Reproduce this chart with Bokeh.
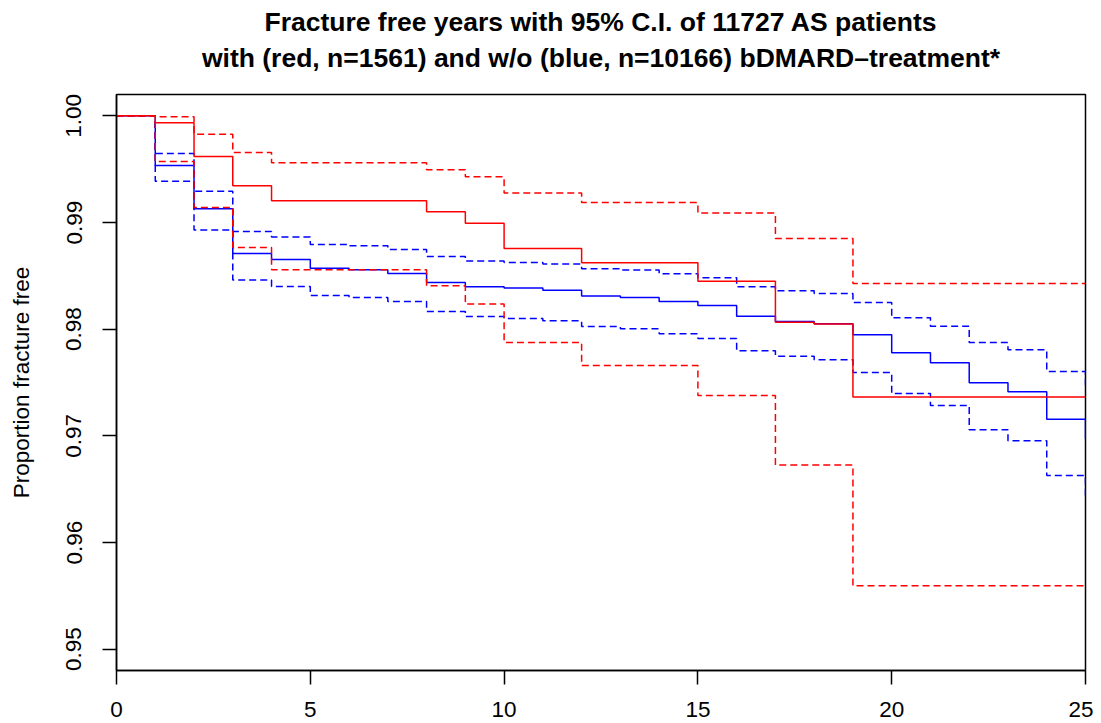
from bokeh.plotting import figure
from bokeh.models import FixedTicker, PrintfTickFormatter, Title, Range1d
from bokeh.embed import file_html
from bokeh.resources import INLINE

title_line1 = "Fracture free years with 95% C.I. of 11727 AS patients"
title_line2 = "with (red, n=1561) and w/o (blue, n=10166) bDMARD\u2013treatment*"
y_label = "Proportion fracture free"

x_ticks = [0, 5, 10, 15, 20, 25]
y_ticks = [0.95, 0.96, 0.97, 0.98, 0.99, 1.00]

# bDMARD-treated (red)
red_years = [0, 1, 2, 3, 4, 8, 9, 10, 12, 15, 17, 18, 19, 25]
red_est = [1.0, 0.99935, 0.99619, 0.99344, 0.99203, 0.99100, 0.98994, 0.98757,
           0.98622, 0.98450, 0.98064, 0.98049, 0.97363, 0.97363]
red_upper = [1.0, 0.99991, 0.99828, 0.99656, 0.99559, 0.99494, 0.99428, 0.99276,
             0.99187, 0.99088, 0.98850, 0.98850, 0.98428, 0.98428]
red_lower = [1.0, 0.99571, 0.99141, 0.98766, 0.98557, 0.98407, 0.98235, 0.97876,
             0.97659, 0.97378, 0.96726, 0.96726, 0.95594, 0.95594]

# untreated (blue)
blue_years = list(range(0, 26))
blue_est = [1.0, 0.99534, 0.99128, 0.98709, 0.98653, 0.98572, 0.98557, 0.98522,
            0.98438, 0.98397, 0.98385, 0.98365, 0.98312, 0.98297, 0.98260, 0.98222,
            0.98122, 0.98072, 0.98051, 0.97947, 0.97778, 0.97684, 0.97497, 0.97413,
            0.97156, 0.96972]
blue_upper = [1.0, 0.99647, 0.99294, 0.98916, 0.98865, 0.98794, 0.98781, 0.98747,
              0.98681, 0.98638, 0.98625, 0.98610, 0.98566, 0.98554, 0.98519, 0.98481,
              0.98397, 0.98359, 0.98334, 0.98250, 0.98106, 0.98028, 0.97875, 0.97806,
              0.97603, 0.97475]
blue_lower = [1.0, 0.99387, 0.98929, 0.98460, 0.98400, 0.98315, 0.98297, 0.98260,
              0.98166, 0.98119, 0.98100, 0.98079, 0.98024, 0.98003, 0.97956, 0.97913,
              0.97797, 0.97747, 0.97713, 0.97594, 0.97397, 0.97284, 0.97057, 0.96953,
              0.96628, 0.96419]

FONT = "Liberation Sans"
LABEL_SIZE = "22.5px"
TITLE_SIZE = "26.5px"

p = figure(frame_width=969, frame_height=576,
           min_border_left=116, min_border_top=94, min_border_right=8, min_border_bottom=52,
           x_range=Range1d(0, 25), y_range=Range1d(0.948, 1.002),
           output_backend="svg", toolbar_location=None, title=None)

# spacer between the frame and the two title lines
p.add_layout(Title(text=" ", text_font_size="1px", standoff=17), "above")
p.add_layout(Title(text=title_line2, align="center", text_font=FONT, text_font_size=TITLE_SIZE,
                   text_font_style="bold", text_color="black", standoff=4, offset=0), "above")
p.add_layout(Title(text=title_line1, align="center", text_font=FONT, text_font_size=TITLE_SIZE,
                   text_font_style="bold", text_color="black", standoff=4, offset=0), "above")

p.xgrid.visible = False
p.ygrid.visible = False
p.background_fill_color = "white"
p.border_fill_color = "white"
p.outline_line_color = "black"
p.outline_line_width = 1.5
p.outline_line_alpha = 1.0

for ax in (p.xaxis[0], p.yaxis[0]):
    ax.axis_line_color = "black"
    ax.axis_line_width = 1.5
    ax.major_tick_line_color = "black"
    ax.major_tick_line_width = 1.5
    ax.major_tick_out = 14
    ax.major_tick_in = 0
    ax.minor_tick_line_color = None
    ax.major_label_text_font = FONT
    ax.major_label_text_font_size = LABEL_SIZE
    ax.major_label_text_color = "black"

p.xaxis.ticker = FixedTicker(ticks=x_ticks)
p.xaxis.major_label_standoff = 17
p.yaxis.ticker = FixedTicker(ticks=y_ticks)
p.yaxis.formatter = PrintfTickFormatter(format="%.2f")
p.yaxis.major_label_orientation = "vertical"
p.yaxis.major_label_standoff = 21
p.yaxis.axis_label = y_label
p.yaxis.axis_label_text_font = FONT
p.yaxis.axis_label_text_font_size = LABEL_SIZE
p.yaxis.axis_label_text_font_style = "normal"
p.yaxis.axis_label_text_color = "black"
p.yaxis.axis_label_standoff = 30

BLUE = "#0000FF"
RED = "#FF0000"
LW = 1.5
DASH = "7 4"

p.step(blue_years, blue_upper, mode="after", line_color=BLUE, line_width=LW, line_dash=DASH)
p.step(blue_years, blue_lower, mode="after", line_color=BLUE, line_width=LW, line_dash=DASH)
p.step(blue_years, blue_est, mode="after", line_color=BLUE, line_width=LW)
p.step(red_years, red_upper, mode="after", line_color=RED, line_width=LW, line_dash=DASH)
p.step(red_years, red_lower, mode="after", line_color=RED, line_width=LW, line_dash=DASH)
p.step(red_years, red_est, mode="after", line_color=RED, line_width=LW)

open("out.html", "w").write(file_html(p, INLINE))
